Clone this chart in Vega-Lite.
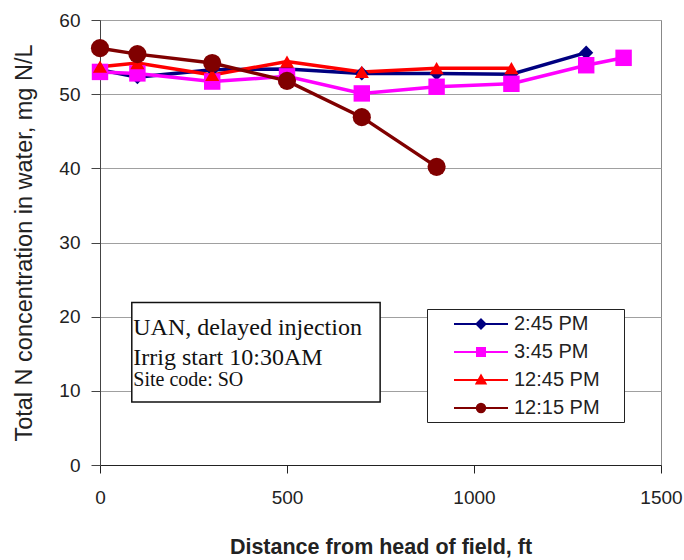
{
  "$schema": "https://vega.github.io/schema/vega-lite/v6.json",
  "width": 561,
  "height": 445,
  "autosize": {"type": "none"},
  "padding": {"left": 100, "top": 20, "right": 23, "bottom": 95},
  "background": "white",
  "config": {
    "font": "Liberation Sans",
    "view": {"stroke": "#888888", "strokeWidth": 1}
  },
  "datasets": {
    "series": [
      {"t": "2:45 PM", "x": 0, "y": 53.3},
      {"t": "2:45 PM", "x": 100, "y": 52.3},
      {"t": "2:45 PM", "x": 300, "y": 53.3},
      {"t": "2:45 PM", "x": 500, "y": 53.4},
      {"t": "2:45 PM", "x": 700, "y": 52.8},
      {"t": "2:45 PM", "x": 900, "y": 52.8},
      {"t": "2:45 PM", "x": 1100, "y": 52.7},
      {"t": "2:45 PM", "x": 1300, "y": 55.6},
      {"t": "3:45 PM", "x": 0, "y": 53.0},
      {"t": "3:45 PM", "x": 100, "y": 52.8},
      {"t": "3:45 PM", "x": 300, "y": 51.7},
      {"t": "3:45 PM", "x": 500, "y": 52.4},
      {"t": "3:45 PM", "x": 700, "y": 50.1},
      {"t": "3:45 PM", "x": 900, "y": 51.0},
      {"t": "3:45 PM", "x": 1100, "y": 51.4},
      {"t": "3:45 PM", "x": 1300, "y": 53.9},
      {"t": "3:45 PM", "x": 1400, "y": 54.9},
      {"t": "12:45 PM", "x": 0, "y": 53.7},
      {"t": "12:45 PM", "x": 100, "y": 54.2},
      {"t": "12:45 PM", "x": 300, "y": 52.6},
      {"t": "12:45 PM", "x": 500, "y": 54.4},
      {"t": "12:45 PM", "x": 700, "y": 53.0},
      {"t": "12:45 PM", "x": 900, "y": 53.5},
      {"t": "12:45 PM", "x": 1100, "y": 53.5},
      {"t": "12:15 PM", "x": 0, "y": 56.2},
      {"t": "12:15 PM", "x": 100, "y": 55.4},
      {"t": "12:15 PM", "x": 300, "y": 54.2},
      {"t": "12:15 PM", "x": 500, "y": 51.8},
      {"t": "12:15 PM", "x": 700, "y": 46.9},
      {"t": "12:15 PM", "x": 900, "y": 40.2}
    ],
    "note1": [{"label": "UAN, delayed injection"}],
    "note2": [{"label": "Irrig start 10:30AM"}],
    "note3": [{"label": "Site code: SO"}]
  },
  "layer": [
    {
      "data": {"name": "series"},
      "encoding": {
        "x": {
          "field": "x", "type": "quantitative",
          "scale": {"domain": [0, 1500], "nice": false},
          "axis": {
            "values": [0, 500, 1000, 1500], "format": "d", "grid": false, "tickSize": 8,
            "labelPadding": 15, "labelFontSize": 19, "labelColor": "#222222", "labelFlush": false,
            "domainColor": "#222222", "tickColor": "#222222",
            "title": "Distance from head of field, ft", "titleFontSize": 21.5,
            "titleFontWeight": "bold", "titleColor": "#222222", "titlePadding": 29
          }
        },
        "y": {
          "field": "y", "type": "quantitative",
          "scale": {"domain": [0, 60], "nice": false},
          "axis": {
            "values": [0, 10, 20, 30, 40, 50, 60], "grid": true, "gridColor": "#a0a0a0",
            "tickSize": 9, "labelPadding": 11, "labelFontSize": 19, "labelColor": "#222222",
            "domainColor": "#444444", "tickColor": "#444444",
            "title": "Total N concentration in water, mg N/L", "titleFontSize": 23.5,
            "titleFontWeight": "normal", "titleColor": "#222222", "titlePadding": 22
          }
        },
        "color": {
          "field": "t", "type": "nominal",
          "scale": {"domain": ["2:45 PM", "3:45 PM", "12:45 PM", "12:15 PM"], "range": ["#000080", "#ff00ff", "#ff0000", "#800000"]},
          "legend": {
            "orient": "none", "legendX": 327, "legendY": 289,
            "title": "\u00a0", "titleOrient": "right", "titlePadding": 20, "titleFontSize": 20,
            "padding": 4, "symbolOffset": 22, "labelOffset": 39, "rowPadding": 7,
            "symbolSize": 400, "symbolType": "circle", "labelFontSize": 20, "labelColor": "#222222", "labelFont": "Liberation Sans",
            "strokeColor": "#222222", "fillColor": "white",
            "encoding": {
              "symbols": {
                "shape": {"value": {"signal": "datum.value === '2:45 PM' ? 'M-1,0L4.4,0M1.7,-0.45L2.15,0L1.7,0.45L1.25,0Z' : datum.value === '3:45 PM' ? 'M-1,0L4.4,0M1.3,-0.4L2.1,-0.4L2.1,0.4L1.3,0.4Z' : datum.value === '12:45 PM' ? 'M-1,0L4.4,0M1.7,-0.45L2.15,0.35L1.25,0.35Z' : 'M-1,0L4.4,0M1.28,0A0.42,0.42,0,1,0,2.12,0A0.42,0.42,0,1,0,1.28,0Z'"}},
                "fill": {"value": {"signal": "datum.value === '2:45 PM' ? '#000080' : datum.value === '3:45 PM' ? '#ff00ff' : datum.value === '12:45 PM' ? '#ff0000' : '#800000'"}},
                "stroke": {"value": {"signal": "datum.value === '2:45 PM' ? '#000080' : datum.value === '3:45 PM' ? '#ff00ff' : datum.value === '12:45 PM' ? '#ff0000' : '#800000'"}},
                "size": {"value": 400},
                "strokeWidth": {"value": 2},
                "opacity": {"value": 1},
                "fillOpacity": {"value": 1},
                "strokeOpacity": {"value": 1}
              }
            }
          }
        }
      },
      "layer": [
        {
          "mark": {"type": "line", "strokeWidth": 3.5},
          "encoding": {"detail": {"field": "t"}}
        },
        {
          "transform": [{"filter": {"field": "t", "equal": "2:45 PM"}}],
          "mark": {"type": "point", "filled": true, "opacity": 1, "shape": "diamond", "size": 200}
        },
        {
          "transform": [{"filter": {"field": "t", "equal": "3:45 PM"}}],
          "mark": {"type": "point", "filled": true, "opacity": 1, "shape": "square", "size": 270}
        },
        {
          "transform": [{"filter": {"field": "t", "equal": "12:45 PM"}}],
          "mark": {"type": "point", "filled": true, "opacity": 1, "shape": "triangle-up", "size": 200}
        },
        {
          "transform": [{"filter": {"field": "t", "equal": "12:15 PM"}}],
          "mark": {"type": "point", "filled": true, "opacity": 1, "shape": "circle", "size": 330}
        }
      ]
    },
    {
      "data": {"name": "note1"},
      "mark": {"type": "rect", "fill": "white", "stroke": "#111111", "strokeWidth": 1.5},
      "encoding": {
        "x": {"datum": 85, "type": "quantitative"}, "x2": {"datum": 749},
        "y": {"datum": 21.9, "type": "quantitative"}, "y2": {"datum": 8.5}
      }
    },
    {
      "data": {"name": "note1"},
      "mark": {"type": "text", "font": "Liberation Serif", "fontSize": 24, "align": "left", "baseline": "middle", "color": "#111111"},
      "encoding": {"x": {"datum": 89, "type": "quantitative"}, "y": {"datum": 18.5, "type": "quantitative"}, "text": {"field": "label"}}
    },
    {
      "data": {"name": "note2"},
      "mark": {"type": "text", "font": "Liberation Serif", "fontSize": 24, "align": "left", "baseline": "middle", "color": "#111111"},
      "encoding": {"x": {"datum": 89, "type": "quantitative"}, "y": {"datum": 14.4, "type": "quantitative"}, "text": {"field": "label"}}
    },
    {
      "data": {"name": "note3"},
      "mark": {"type": "text", "font": "Liberation Serif", "fontSize": 20, "align": "left", "baseline": "middle", "color": "#111111"},
      "encoding": {"x": {"datum": 89, "type": "quantitative"}, "y": {"datum": 11.4, "type": "quantitative"}, "text": {"field": "label"}}
    }
  ]
}
